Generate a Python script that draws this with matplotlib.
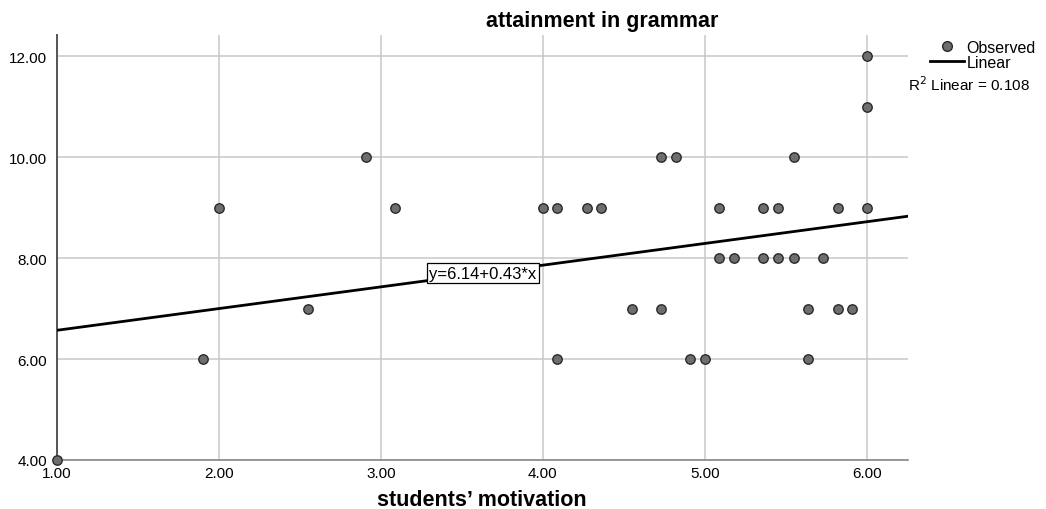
import numpy as np
import matplotlib
matplotlib.use("Agg")
import matplotlib.pyplot as plt
from matplotlib.lines import Line2D

plt.rcParams["font.family"] = ["Liberation Sans", "DejaVu Sans"]

# students' motivation vs attainment in grammar
motivation = [1.00, 1.90, 2.00, 2.55, 2.91, 3.09, 4.00, 4.09, 4.09, 4.27,
              4.36, 4.55, 4.73, 4.82, 4.73, 4.91, 5.00, 5.09, 5.09, 5.18,
              5.36, 5.36, 5.45, 5.45, 5.55, 5.55, 5.64, 5.64, 5.73, 5.82,
              5.82, 5.91, 6.00, 6.00, 6.00]
grammar = [4, 6, 9, 7, 10, 9, 9, 9, 6, 9,
           9, 7, 10, 10, 7, 6, 6, 9, 8, 8,
           9, 8, 9, 8, 10, 8, 7, 6, 8, 9,
           7, 7, 12, 11, 9]
intercept, slope = 6.14, 0.43
r2 = 0.108

xticks = [1, 2, 3, 4, 5, 6]
yticks = [4, 6, 8, 10, 12]

fig = plt.figure(figsize=(10.46, 5.10), dpi=100)
ax = fig.add_axes([57 / 1046, 1 - 461 / 510, (908 - 57) / 1046, (461 - 36) / 510])

ax.set_xlim(1.0, 6.255)
ax.set_ylim(4.0, 12.42)
ax.set_xticks(xticks)
ax.set_yticks(yticks)
ax.set_xticklabels([f"{v:.2f}" for v in xticks], fontsize=11)
ax.set_yticklabels([f"{v:.2f}" for v in yticks], fontsize=11)
ax.tick_params(axis="y", length=0, pad=7)
ax.tick_params(axis="x", length=0, pad=4)
ax.grid(True, color="#c8c8c8", linewidth=1.1)
ax.set_axisbelow(True)
for s in ["top", "right"]:
    ax.spines[s].set_visible(False)
ax.spines["left"].set_color("#555555")
ax.spines["left"].set_linewidth(1.4)
ax.spines["bottom"].set_color("#888888")
ax.spines["bottom"].set_linewidth(1.2)

xs = np.array([1.0, 6.255])
ax.plot(xs, intercept + slope * xs, color="black", linewidth=2, zorder=3)

ax.scatter(motivation, grammar, s=46, facecolor="#6e6e6e", edgecolor="#2a2a2a",
           linewidth=1.0, zorder=4, clip_on=False)

ax.text(3.63, intercept + slope * 3.63, f"y={intercept:.2f}+{slope:.2f}*x",
        ha="center", va="center", fontsize=12, zorder=5,
        bbox=dict(boxstyle="square,pad=0.15", facecolor="white", edgecolor="black", linewidth=0.9))

fig.text(602 / 1046, 1 - 22 / 510, "attainment in grammar", ha="center", va="center",
         fontsize=15.5, fontweight="bold")
fig.text(482 / 1046, 1 - 501 / 510, "students\u2019 motivation", ha="center", va="center",
         fontsize=15.5, fontweight="bold")

handles = [Line2D([], [], marker="o", linestyle="none", markerfacecolor="#6e6e6e",
                  markeredgecolor="#2a2a2a", markersize=7),
           Line2D([], [], color="black", linewidth=2)]
leg = fig.legend(handles, ["Observed", "Linear"], loc="upper left",
                 bbox_to_anchor=(922 / 1046, 1 - 33 / 510), frameon=False,
                 fontsize=11.5, handlelength=2.1, handletextpad=0.2, labelspacing=0.0,
                 borderpad=0)
fig.text(908 / 1046, 1 - 85 / 510, f"R$^2$ Linear = {r2:.3f}", ha="left", va="center",
         fontsize=11)

fig.savefig("out.png", dpi=100)
